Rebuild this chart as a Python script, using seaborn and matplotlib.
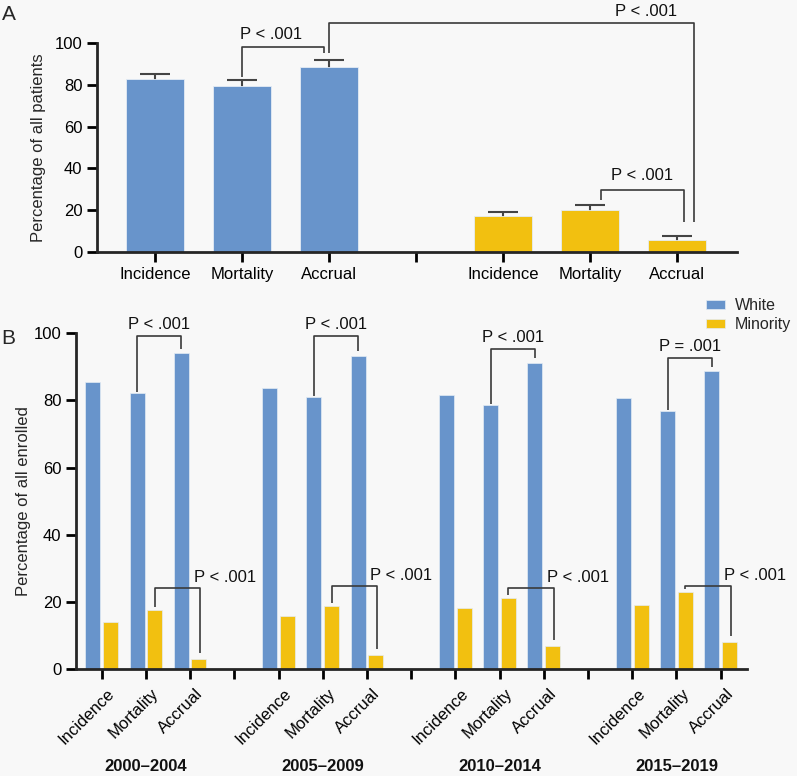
import numpy as np
import pandas as pd
import matplotlib
matplotlib.use("Agg")
import matplotlib.pyplot as plt
import matplotlib.transforms as mtransforms
import seaborn as sns

metrics = ["Incidence", "Mortality", "Accrual"]
groups = ["White", "Minority"]
colors = {"White": "#6894CB", "Minority": "#F2C010"}

# panel A: share of all patients, with upper error bar
overall_white = [82.6, 79.6, 88.7]
overall_minority = [17.1, 20.1, 5.6]
overall_white_err = [2.4, 2.6, 3.0]
overall_minority_err = [2.0, 2.4, 2.2]

# panel B: by period
periods = ["2000–2004", "2005–2009", "2010–2014", "2015–2019"]
white_by_period = [[85.6, 82.2, 94.0],
                   [83.8, 81.0, 93.3],
                   [81.6, 78.7, 91.1],
                   [80.8, 76.9, 88.7]]
minority_by_period = [[14.2, 17.6, 3.1],
                      [16.0, 18.8, 4.3],
                      [18.2, 21.1, 6.9],
                      [19.0, 23.0, 8.2]]
white_p = ["P < .001", "P < .001", "P < .001", "P = .001"]
minority_p = ["P < .001", "P < .001", "P < .001", "P < .001"]
# bracket heights (annotation only)
white_bracket_top = [99.2, 99.2, 95.3, 92.7]
minority_bracket_top = [24.1, 24.8, 24.1, 24.8]

sns.set_style("ticks")
bg = "#F8F8F8"
plt.rcParams["font.family"] = ["Liberation Sans", "DejaVu Sans"]
plt.rcParams["axes.linewidth"] = 2.0
plt.rcParams["xtick.major.width"] = 2.0
plt.rcParams["ytick.major.width"] = 2.0
plt.rcParams["xtick.color"] = "black"
plt.rcParams["ytick.color"] = "black"

fig = plt.figure(figsize=(7.97, 7.76), dpi=100, facecolor=bg)
axA = fig.add_axes([0.1217, 0.6753, 0.803, 0.2693], facecolor=bg)
axB = fig.add_axes([0.0954, 0.1375, 0.8415, 0.4330], facecolor=bg)

line_kw = dict(color="#3a3a3a", lw=1.2, clip_on=False, solid_capstyle="butt")
txt_kw = dict(fontsize=12, color="#111111")

# ---------- panel A ----------
rowsA = []
for m, v in zip(metrics, overall_white):
    rowsA.append({"key": "White|" + m, "group": "White", "value": v})
for m, v in zip(metrics, overall_minority):
    rowsA.append({"key": "Minority|" + m, "group": "Minority", "value": v})
dfA = pd.DataFrame(rowsA)
orderA = ["White|" + m for m in metrics] + ["gap"] + ["Minority|" + m for m in metrics]

sns.barplot(data=dfA, x="key", y="value", hue="group", order=orderA, hue_order=groups,
            palette=colors, saturation=1, dodge=False, width=0.67, legend=False, ax=axA,
            edgecolor="#e4ecf5", linewidth=0.6, zorder=2)

barsA = {}
for p in axA.patches:
    if p.get_height() > 0:
        barsA[int(round(p.get_x() + p.get_width() / 2))] = p


def top(p):
    return p.get_x() + p.get_width() / 2, p.get_height()


# symmetric whiskers drawn behind the bars, so only the upper half shows
err_all = overall_white_err + overall_minority_err
slotsA = [orderA.index(k) for k in dfA["key"]]
xs = [top(barsA[s])[0] for s in slotsA]
ys = [top(barsA[s])[1] for s in slotsA]
axA.errorbar(xs, ys, yerr=err_all, fmt="none",
             ecolor="#444444", elinewidth=1.5, capsize=11, capthick=1.5, zorder=1)

axA.set_xlim(-0.667, 6.69)
axA.set_ylim(0, 100)
axA.set_yticks([0, 20, 40, 60, 80, 100])
axA.set_xticks(range(len(orderA)))
axA.set_xticklabels([k.split("|")[1] if "|" in k else "" for k in orderA])
axA.tick_params(labelsize=12, length=7)
axA.set_xlabel("")
axA.set_ylabel("Percentage of all patients", fontsize=12, labelpad=6)
sns.despine(ax=axA)

# white mortality vs accrual
xm, hm = top(barsA[orderA.index("White|Mortality")])
xa, ha = top(barsA[orderA.index("White|Accrual")])
axA.plot([xm, xm, xa - 0.06, xa - 0.06], [hm + 4, 97.9, 97.9, 95], **line_kw)
axA.text(xm - 0.02, 104.3, "P < .001", ha="left", va="center", **txt_kw)
# white accrual vs minority accrual
xma, hma = top(barsA[orderA.index("Minority|Accrual")])
axA.plot([xa, xa, xma + 0.2, xma + 0.2], [95, 109.8, 109.8, 14.5], **line_kw)
axA.text(xma + 0.2 - 0.55, 115.3, "P < .001", ha="center", va="center", **txt_kw)
# minority mortality vs accrual
xmm, hmm = top(barsA[orderA.index("Minority|Mortality")])
axA.plot([xmm + 0.13, xmm + 0.13, xma + 0.08, xma + 0.08], [25, 29.7, 29.7, 14.5], **line_kw)
axA.text((xmm + xma) / 2 + 0.1, 36.4, "P < .001", ha="center", va="center", **txt_kw)

# ---------- panel B ----------
rowsB = []
orderB = []
for i, per in enumerate(periods):
    for j, m in enumerate(metrics):
        key = per + "|" + m
        orderB.append(key)
        rowsB.append({"key": key, "group": "White", "value": white_by_period[i][j]})
        rowsB.append({"key": key, "group": "Minority", "value": minority_by_period[i][j]})
    if i < len(periods) - 1:
        orderB.append("gap%d" % i)
dfB = pd.DataFrame(rowsB)

sns.barplot(data=dfB, x="key", y="value", hue="group", order=orderB, hue_order=groups,
            palette=colors, saturation=1, width=0.8, gap=0.15, ax=axB,
            edgecolor="#e4ecf5", linewidth=0.5)

barsB = {}
for p in axB.patches:
    if p.get_height() > 0:
        cx = p.get_x() + p.get_width() / 2
        slot = int(round(cx))
        barsB[(slot, "White" if cx < slot else "Minority")] = p

axB.set_xlim(-0.58, 14.59)
axB.set_ylim(0, 100)
axB.set_yticks([0, 20, 40, 60, 80, 100])
axB.set_xticks(range(len(orderB)))
axB.set_xticklabels([k.split("|")[1] if "|" in k else "" for k in orderB],
                    rotation=45, ha="right", va="top", rotation_mode="anchor")
axB.tick_params(labelsize=12, length=7)
axB.tick_params(axis="x", pad=5)
shift = mtransforms.ScaledTranslation(5 / 100, 0, fig.dpi_scale_trans)
for lab in axB.get_xticklabels():
    lab.set_transform(lab.get_transform() + shift)
axB.set_xlabel("")
axB.set_ylabel("Percentage of all enrolled", fontsize=12, labelpad=2)
sns.despine(ax=axB)

handles, labels = axB.get_legend_handles_labels()
axB.get_legend().remove()
fig.legend(handles, labels, loc="upper left", bbox_to_anchor=(0.886, 1 - 298 / 776),
           frameon=False, fontsize=11.5, handlelength=1.2, handleheight=0.45,
           handletextpad=0.6, labelspacing=0.25, borderpad=0, borderaxespad=0)

for i, per in enumerate(periods):
    s_m = orderB.index(per + "|Mortality")
    s_a = orderB.index(per + "|Accrual")
    s_i = orderB.index(per + "|Incidence")
    # white bracket
    xw1, hw1 = top(barsB[(s_m, "White")])
    xw2, hw2 = top(barsB[(s_a, "White")])
    t = white_bracket_top[i]
    axB.plot([xw1, xw1, xw2, xw2], [hw1 + 0.2, t, t, hw2 + 1.4], **line_kw)
    axB.text((xw1 + xw2) / 2, t + 3.4, white_p[i], ha="center", va="center", **txt_kw)
    # minority bracket
    xm1, hm1 = top(barsB[(s_m, "Minority")])
    xm2, hm2 = top(barsB[(s_a, "Minority")])
    t = minority_bracket_top[i]
    axB.plot([xm1, xm1, xm2 + 0.03, xm2 + 0.03], [hm1 + 1.0, t, t, hm2 + 1.8], **line_kw)
    axB.text(xm2 - 0.12, t + 3.2, minority_p[i], ha="left", va="center", **txt_kw)
    # period label
    axB.text((s_i + s_a) / 2, -0.289, per, transform=axB.get_xaxis_transform(),
             ha="center", va="center", fontsize=12, fontweight="bold", color="#111111")

fig.text(9 / 797, 1 - 14 / 776, "A", fontsize=15, ha="center", va="center")
fig.text(8.5 / 797, 1 - 339 / 776, "B", fontsize=15, ha="center", va="center")

fig.savefig("out.png", dpi=100, facecolor=bg)
